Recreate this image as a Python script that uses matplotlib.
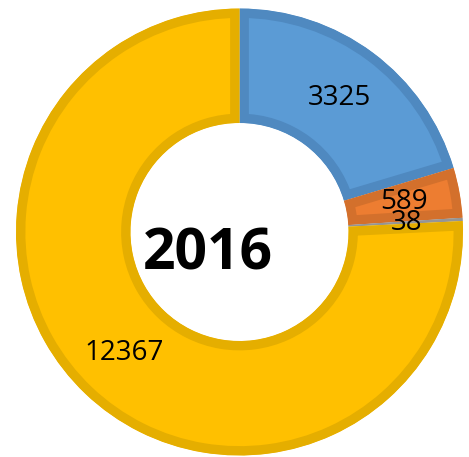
import matplotlib
matplotlib.use("Agg")
import matplotlib.pyplot as plt

# donut data (clockwise from 12 o'clock)
values = [3325, 589, 38, 12367]
fill_colors = ["#5B9BD5", "#ED7D31", "#A5A5A5", "#FFC000"]
edge_colors = ["#4F89C0", "#D3702C", "#959595", "#E5AE00"]
center_label = "2016"

W, H = 469, 457
fig = plt.figure(figsize=(W / 100, H / 100), dpi=100)
ax = fig.add_axes([0, 0, 1, 1])

total = sum(values)
cx, cy = 239.5, H - 232
radius = 223.5
ring = (radius - 109) / radius

wedges, texts, autotexts = ax.pie(
    values,
    colors=fill_colors,
    startangle=90,
    counterclock=False,
    radius=radius,
    center=(cx, cy),
    frame=True,
    autopct=lambda p: f"{round(p * total / 100)}",
    pctdistance=0.75,
    wedgeprops=dict(width=radius * ring, linewidth=13.5),
    textprops=dict(fontsize=20, color="black", family=["Open Sans", "DejaVu Sans"]),
)

ax.set_xlim(0, W)
ax.set_ylim(0, H)
ax.axis("off")

# keep each wedge's outline inside its own shape
for w, ec in zip(wedges, edge_colors):
    w.set_edgecolor(ec)
    w.set_clip_on(True)
    w.set_clip_path(w.get_path(), w.get_transform())

ax.text(cx - 32, cy - 22, center_label, ha="center", va="center",
        fontsize=41, fontweight="bold", family=["Open Sans", "DejaVu Sans"])

fig.savefig("out.png", dpi=100)
